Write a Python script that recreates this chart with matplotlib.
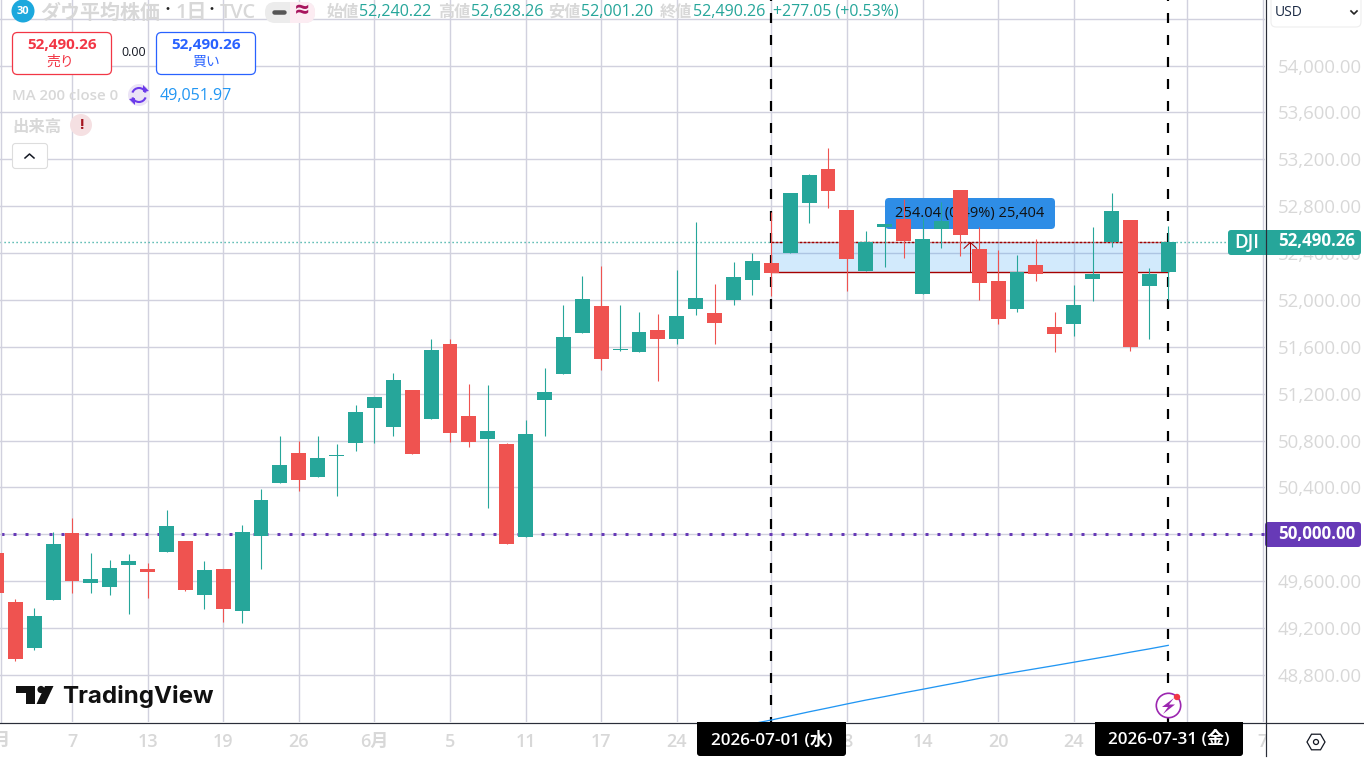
import matplotlib
matplotlib.use("Agg")
import matplotlib.pyplot as plt
from matplotlib.patches import FancyBboxPatch, Rectangle, Circle, Polygon, RegularPolygon, Arc

FONT = ['Open Sans', 'Noto Sans CJK JP', 'DejaVu Sans']
plt.rcParams['font.family'] = FONT
plt.rcParams['lines.scale_dashes'] = False

first_bar = -1
bar_open = [49840, 49423, 49030, 49440, 50011, 49585, 49551, 49738, 49704, 49849, 49943, 49482, 49704,
            49346, 49986, 50438, 50694, 50489, 50668, 50779, 51078, 50916, 51231, 50984, 51624, 51010,
            50813, 50771, 49977, 51146, 51368, 51718, 51948, 51573, 51556, 51743, 51667, 51923, 51888,
            51999, 52170, 52315, 52400, 52827, 53117, 52767, 52247, 52622, 52690, 52051, 52605, 52938,
            52434, 52161, 51923, 52298, 51769, 51795, 52179, 52494, 52682, 52119, 52240]
bar_high = [49840, 49448, 49371, 50017, 50139, 49841, 49781, 49832, 49755, 50208, 49943, 49772, 49704,
            50080, 50387, 50839, 50796, 50839, 50771, 51103, 51172, 51376, 51231, 51667, 51667, 51283,
            51274, 50779, 50975, 51419, 51957, 52204, 52289, 51957, 51897, 51880, 52255, 52665, 52136,
            52324, 52400, 52753, 52912, 53074, 53296, 52767, 52588, 52648, 52861, 52710, 52835, 52938,
            52619, 52426, 52383, 52520, 51897, 52127, 52622, 52912, 52682, 52272, 52628]
bar_low = [49498, 48919, 49013, 49440, 49499, 49499, 49482, 49320, 49457, 49849, 49517, 49363, 49252,
           49243, 49704, 50438, 50370, 50489, 50327, 50711, 50779, 50839, 50685, 50984, 50788, 50745,
           50225, 49918, 49977, 50839, 51368, 51718, 51402, 51564, 51556, 51308, 51624, 51871, 51624,
           51957, 52042, 52033, 52400, 52656, 52784, 52076, 52247, 52281, 52358, 52051, 52443, 52375,
           51999, 51795, 51897, 52161, 51556, 51692, 51991, 52452, 51564, 51667, 52001]
bar_close = [49498, 48936, 49303, 49918, 49602, 49619, 49713, 49772, 49679, 50071, 49525, 49696, 49363,
             50020, 50293, 50591, 50463, 50651, 50677, 51044, 51172, 51317, 50685, 51573, 50865, 50788,
             50882, 49918, 50856, 51214, 51684, 52008, 51496, 51581, 51726, 51667, 51863, 52016, 51803,
             52196, 52332, 52230, 52912, 53066, 52929, 52349, 52494, 52648, 52503, 52520, 52673, 52554,
             52144, 51837, 52238, 52221, 51709, 51957, 52221, 52759, 51598, 52221, 52490.26]

ma_first = 39
ma_values = [48383, 48415, 48450, 48485, 48518, 48552, 48585, 48615, 48647, 48677, 48708, 48738, 48770,
             48799, 48826, 48853, 48880, 48908, 48936, 48964, 48994, 49022, 49052]

price_ticks = [48800, 49200, 49600, 50000, 50400, 50800, 51200, 51600, 52000, 52400, 52800, 53200, 53600, 54000]
extra_grid = [54400]
date_positions = [3, 7, 11, 15, 19, 23, 27, 31, 35, 40, 44, 48, 52, 56, 62, 66]
date_labels = ['7', '13', '19', '26', '6月', '5', '11', '17', '24', '', '8', '14', '20', '24', '', '7']

range_start, range_end = 40, 61
range_low, range_high = 52236.22, 52490.26
last_price = 52490.26
level_price = 50000
arrow_bar = 50.53

UP, DOWN = '#26a69a', '#ef5350'
GRID = '#d1d1de'
FADED = '#d8d8d8'
LINE = '#2a2e39'
PX = 0.72

W, H = 1364, 761
fig = plt.figure(figsize=(W / 100, H / 100), dpi=100, facecolor='white')
ax = fig.add_axes([0, 39 / H, 1265 / W, 722 / H], zorder=1)
ovl = fig.add_axes([0, 0, 1, 1], zorder=5)
ovl.set_xlim(0, W)
ovl.set_ylim(H, 0)
ovl.axis('off')
ovl.patch.set_alpha(0)

# grid and axes
ax.set_yticks(price_ticks)
ax.set_yticklabels([f'{p:,.2f}' if p != level_price else '' for p in price_ticks])
ax.yaxis.tick_right()
ax.tick_params(axis='y', length=0, pad=9.2, labelsize=13.4, labelcolor=FADED)
ax.set_xticks(date_positions)
ax.set_xticklabels(date_labels)
ax.tick_params(axis='x', length=0, pad=8, labelsize=13, labelcolor=FADED)
ax.set_xlim(-0.81, 66.12)
ax.set_ylim(48398, 54559)
for lab in ax.get_yticklabels():
    lab.set_fontweight('semibold')
    lab.set_verticalalignment('center')
for lab in ax.get_xticklabels():
    lab.set_fontweight('semibold')
for y in price_ticks + extra_grid:
    ax.axhline(y, color=GRID, lw=1.4 * PX, zorder=1)
for x in date_positions:
    ax.axvline(x, color=GRID, lw=1.4 * PX, zorder=1)
for name, sp in ax.spines.items():
    sp.set_visible(False)
ax.spines['left'].set_visible(True)
ax.spines['left'].set_color(GRID)
ax.spines['left'].set_linewidth(1.4 * PX)
ax.spines['left'].set_position(('data', -0.76))

# measure range
ax.add_patch(Rectangle((range_start, range_low), range_end - range_start, range_high - range_low,
                       facecolor='#2196f3', alpha=0.2, edgecolor='none', zorder=2))
ax.plot([range_start, range_end], [range_high] * 2, color='#a50000', lw=1.4 * PX, ls=(0, (3 * PX, 1 * PX)), zorder=2.1)
ax.plot([range_start, range_end], [range_low] * 2, color='#a50000', lw=1.4 * PX, zorder=2.1)
ax.plot([arrow_bar, arrow_bar], [range_low, range_high], color='#a50000', lw=PX, zorder=2.1)
ax.plot([arrow_bar - 0.33, arrow_bar, arrow_bar + 0.33], [range_high - 50, range_high, range_high - 50],
        color='#a50000', lw=PX, zorder=2.1)

# reference lines
ax.axhline(last_price, color=UP, lw=1.4 * PX, ls=(0, (1.2 * PX, 2.8 * PX)), zorder=2, dash_capstyle='butt')
ax.axhline(level_price, color='#673ab7', lw=3 * PX, ls=(11 * PX, (3 * PX, 9 * PX)), zorder=2.2,
           dash_capstyle='butt')
for x in (range_start, range_end):
    ax.axvline(x, color='black', lw=2.2 * PX, ls=(5 * PX, (10 * PX, 12 * PX)), zorder=2.5, dash_capstyle='butt')

# tooltip under the candles
ax.add_patch(FancyBboxPatch((889, 202), 162, 23, boxstyle='round,pad=4,rounding_size=4', facecolor='#2e8de6',
                            edgecolor='none', transform=ovl.transData, zorder=3))
ax.text(970, 213, '254.04 (0.49%) 25,404', transform=ovl.transData, ha='center', va='center',
        fontsize=10.5, color='#111111', zorder=3.5)

# candles
xs = [first_bar + i for i in range(len(bar_open))]
colors = [UP if c >= o else DOWN for o, c in zip(bar_open, bar_close)]
ax.vlines(xs, bar_low, bar_high, colors=colors, lw=1.1 * PX, zorder=4)
ax.bar(xs, [abs(c - o) for o, c in zip(bar_open, bar_close)],
       bottom=[min(o, c) for o, c in zip(bar_open, bar_close)], width=0.79, color=colors, linewidth=0, zorder=5)

# moving average
ax.plot([ma_first + i for i in range(len(ma_values))], ma_values, color='#2196f3', lw=1.3 * PX, zorder=6)

# ---------- chrome ----------
ovl.add_patch(Rectangle((1266, 723), 98, 38, facecolor='white', edgecolor='none', zorder=1))
ovl.plot([0, W], [722.5, 722.5], color=LINE, lw=1.2 * PX, zorder=2)
ovl.plot([1265.5, 1265.5], [0, 756], color=LINE, lw=1.2 * PX, zorder=8)


def T(x, y, s, size, color, ha='left', weight='normal', z=6, **kw):
    return ovl.text(x, y, s, fontsize=size, color=color, ha=ha, va='center', fontweight=weight, zorder=z, **kw)


def box(x0, y0, x1, y1, r, fc, ec='none', lw=0.0, z=3):
    p = FancyBboxPatch((x0 + r, y0 + r), x1 - x0 - 2 * r, y1 - y0 - 2 * r, boxstyle=f'round,pad={r},rounding_size={r}',
                       facecolor=fc, edgecolor=ec, lw=lw, zorder=z)
    ovl.add_patch(p)
    return p


# clipped first date label
T(-3, 741, '5月', 13, FADED, ha='center', weight='semibold')

# date tags
for x0, x1, s in [(697, 846, '2026-07-01 (水)'), (1095, 1243, '2026-07-31 (金)')]:
    ovl.add_patch(Rectangle((x0, 722), x1 - x0, 12, facecolor='black', edgecolor='none', zorder=3))
    box(x0, 723, x1, 756, 3, 'black')
    T((x0 + x1) / 2, 740, s, 12.3, 'white', ha='center', weight='semibold')

# price tags
box(1228, 230, 1361, 255, 3, UP)
T(1247, 242.5, 'DJI', 13.4, 'white', ha='center', weight='semibold')
T(1278, 241.5, '52,490.26', 12.2, 'white', weight='bold')
box(1265, 522, 1361, 547, 3, '#673ab7')
T(1278, 534, '50,000.00', 12.2, 'white', weight='bold')

# currency selector
box(1271, -8, 1361, 27, 5, 'white', ec='#eeeeee', lw=0.8)
T(1275, 13, 'USD', 10, '#1b2a44')
ovl.plot([1351, 1354, 1357], [11, 14, 11], color='#222222', lw=1.2, zorder=6)

# header
ovl.add_patch(Circle((23, 11), 11.5, facecolor='#1ca8dd', edgecolor='none', zorder=4))
T(23, 11.5, '30', 8, 'white', ha='center', weight='bold')
T(40, 13.5, 'ダウ平均株価', 14.4, FADED, weight='semibold')
T(167, 11, '・', 10, '#222222', ha='center')
T(175, 13.5, '1日', 14.4, FADED, weight='semibold')
T(212, 11, '・', 10, '#222222', ha='center')
T(220, 13.5, 'TVC', 14.4, FADED, weight='semibold')
left_pill = box(265, 2, 315, 23, 10, '#ececec')
right_pill = box(265, 2, 315, 23, 10, '#fcecf2', z=3.1)
right_pill.set_clip_path(Rectangle((290, 0), 40, 30, transform=ovl.transData))
ovl.plot([274, 284], [12, 12], color='#555555', lw=4.5 * PX, solid_capstyle='round', zorder=5)
T(302, 11.5, '≈', 18, '#a8155e', ha='center', weight='bold')
for lx, vx, name, val in [(326, 359, '始値', '52,240.22'), (438, 471, '高値', '52,628.26'),
                          (548, 581, '安値', '52,001.20'), (660, 693, '終値', '52,490.26')]:
    T(lx, 13, name, 11.6, FADED, weight='semibold')
    T(vx, 12, val, 11.6, UP)
T(773, 12, '+277.05 (+0.53%)', 11.4, UP)

# order buttons
box(12.5, 32.5, 111.5, 74.5, 5, 'white', ec='#f23645', lw=0.9)
T(62, 45, '52,490.26', 11, '#f23645', ha='center', weight='bold')
T(60, 62, '売り', 10, '#f23645', ha='center')
T(134, 53, '0.00', 9, '#131722', ha='center')
box(156.5, 32.5, 255.5, 74.5, 5, 'white', ec='#2962ff', lw=0.9)
T(206, 45, '52,490.26', 11, '#2962ff', ha='center', weight='bold')
T(206, 62, '買い', 10, '#2962ff', ha='center')

# indicator rows
T(12, 96, 'MA 200 close 0', 10.8, FADED, weight='semibold')
ovl.add_patch(Circle((139, 95), 11, facecolor='#ebe4f6', edgecolor='none', zorder=4))
ovl.add_patch(Arc((139, 95), 14, 14, theta1=200, theta2=340, color='#6c3bea', lw=1.5, zorder=5))
ovl.add_patch(Arc((139, 95), 14, 14, theta1=20, theta2=160, color='#6c3bea', lw=1.5, zorder=5))
ovl.add_patch(Polygon([[143, 85], [149, 91], [143, 92]], facecolor='#6c3bea', zorder=5))
ovl.add_patch(Polygon([[135, 105], [129, 99], [135, 98]], facecolor='#6c3bea', zorder=5))
T(160, 95.5, '49,051.97', 11.6, '#2196f3')
T(12, 128, '出来高', 11.8, FADED, weight='semibold')
ovl.add_patch(Circle((81, 125), 11, facecolor='#f5e0e2', edgecolor='none', zorder=4))
T(81, 125, '!', 11, '#a5151f', ha='center', weight='bold')
box(12.5, 143.5, 47.5, 168.5, 3, 'white', ec='#dddddd', lw=0.8)
ovl.plot([25, 29.5, 34], [158, 154, 158], color='#131722', lw=1.1, zorder=6)

# logo
K = '#111111'
ovl.add_patch(Polygon([[16, 686], [35, 686], [35, 704], [26, 704], [26, 693], [16, 693]], facecolor=K, edgecolor='none', zorder=4))
ovl.add_patch(Circle((41, 689.5), 3.6, facecolor=K, edgecolor='none', zorder=4))
ovl.add_patch(Polygon([[45, 686], [53.5, 686], [45, 704], [36.5, 704]], facecolor=K, edgecolor='none', zorder=4))
ovl.text(62, 696, 'TradingView', fontsize=17.4, family='Inter', fontweight='bold', color=K, ha='left',
         va='center', zorder=4)

# alert icon
ovl.add_patch(Circle((1168.5, 705.5), 12.2, facecolor='white', edgecolor='#9c27b0', lw=1.2, zorder=4))
ovl.add_patch(Polygon([[1174, 698], [1162, 707], [1168, 707], [1163, 714], [1175, 704.5], [1169, 704.5]],
                      facecolor='#9c27b0', edgecolor='none', zorder=5))
ovl.add_patch(Circle((1177, 697), 3.2, facecolor='#f23645', edgecolor='none', zorder=6))

# settings icon
ovl.add_patch(RegularPolygon((1316, 742), 6, radius=9, orientation=0.5236, facecolor='white', edgecolor='#131722', lw=0.9, zorder=4))
ovl.add_patch(Circle((1316, 742), 2.5, facecolor='white', edgecolor='#131722', lw=0.9, zorder=5))

fig.savefig('out.png', dpi=100, facecolor='white')
